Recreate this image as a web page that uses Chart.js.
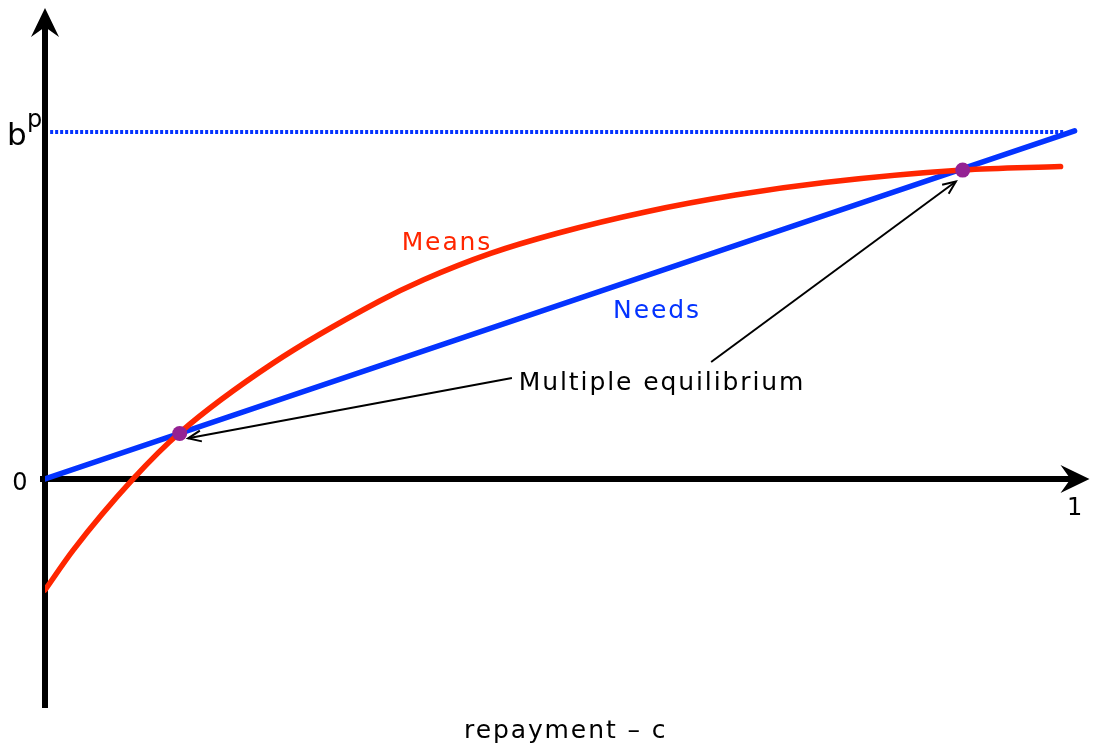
<!DOCTYPE html>
<html>
<head>
<meta charset="utf-8">
<script src="https://cdn.jsdelivr.net/npm/chart.js@4"></script>
<style>
  html, body { margin: 0; padding: 0; background: #fff; }
  #wrap { width: 1097px; height: 753px; }
</style>
</head>
<body>
<div id="wrap"><canvas id="c" width="1097" height="753"></canvas></div>
<script>
// ---- data (x = repayment share, y in units of b^p) ----
const meansX = [0, 0.0274, 0.0856, 0.1308, 0.2212, 0.3246, 0.3678, 0.4328, 0.4977, 0.5842, 0.6706, 0.7572, 0.8913, 0.9864];
const meansY = [-0.320, -0.205, 0.000, 0.133, 0.333, 0.512, 0.574, 0.650, 0.708, 0.770, 0.818, 0.854, 0.890, 0.900];
const needsX = [0, 1];
const needsY = [0, 1.003];
const bpX = [0.005, 0.99];
const bpY = [1, 1];
const eqX = [0.1308, 0.8913];
const eqY = [0.131, 0.890];
const xTickLabels = ['0', '1'];
const yTickLabels = ['0', 'b', 'p'];
const xTitle = 'repayment \u2013 c';
const annText = 'Multiple equilibrium';
const meansLabel = 'Means';
const needsLabel = 'Needs';

const zip = (xs, ys) => xs.map((x, i) => ({x, y: ys[i]}));

const RED = '#ff2600';
const BLUE = '#0433ff';
const PURPLE = '#942193';
const FONT = '"DejaVu Sans", sans-serif';
const SPACING = 1.9;

function arrowHead(ctx, tipX, tipY, ang, len, half, notch) {
  ctx.beginPath();
  ctx.moveTo(tipX, tipY);
  ctx.lineTo(tipX - len * Math.cos(ang) + half * Math.sin(ang), tipY - len * Math.sin(ang) - half * Math.cos(ang));
  ctx.lineTo(tipX - notch * Math.cos(ang), tipY - notch * Math.sin(ang));
  ctx.lineTo(tipX - len * Math.cos(ang) - half * Math.sin(ang), tipY - len * Math.sin(ang) + half * Math.cos(ang));
  ctx.closePath();
  ctx.fill();
}

function openArrow(ctx, x0, y0, x1, y1) {
  ctx.beginPath();
  ctx.moveTo(x0, y0);
  ctx.lineTo(x1, y1);
  ctx.stroke();
  const ang = Math.atan2(y1 - y0, x1 - x0);
  const len = 13, half = 5.5;
  ctx.beginPath();
  ctx.moveTo(x1 - len * Math.cos(ang) + half * Math.sin(ang), y1 - len * Math.sin(ang) - half * Math.cos(ang));
  ctx.lineTo(x1, y1);
  ctx.lineTo(x1 - len * Math.cos(ang) - half * Math.sin(ang), y1 - len * Math.sin(ang) + half * Math.cos(ang));
  ctx.stroke();
}

const axesPlugin = {
  id: 'axesPlugin',
  beforeDatasetsDraw(chart) {
    const {ctx, chartArea: a, scales: {x, y}} = chart;
    const x0 = x.getPixelForValue(0), y0 = y.getPixelForValue(0);
    ctx.save();
    ctx.strokeStyle = '#000';
    ctx.fillStyle = '#000';
    ctx.lineWidth = 6;
    // y axis
    ctx.beginPath();
    ctx.moveTo(x0, a.bottom);
    ctx.lineTo(x0, a.top + 14);
    ctx.stroke();
    arrowHead(ctx, x0, a.top, -Math.PI / 2, 29, 14, 19);
    // x axis
    ctx.beginPath();
    ctx.moveTo(x0 - 5, y0);
    ctx.lineTo(a.right - 14, y0);
    ctx.stroke();
    arrowHead(ctx, a.right, y0, 0, 29, 14, 19);
    ctx.restore();
  },
  afterDraw(chart) {
    const {ctx, scales: {x, y}} = chart;
    const x0 = x.getPixelForValue(0), y0 = y.getPixelForValue(0), y1 = y.getPixelForValue(1);
    ctx.save();
    ctx.textBaseline = 'alphabetic';
    ctx.fillStyle = '#000';
    // tick labels
    ctx.font = '24px ' + FONT;
    ctx.textAlign = 'center';
    ctx.fillText(yTickLabels[0], x0 - 25, y0 + 11);
    ctx.fillText(xTickLabels[1], x.getPixelForValue(1), y0 + 36);
    ctx.textAlign = 'left';
    ctx.font = '31px ' + FONT;
    ctx.fillText(yTickLabels[1], x0 - 38, y1 + 13);
    ctx.font = '24px ' + FONT;
    ctx.fillText(yTickLabels[2], x0 - 18, y1 - 5);
    // spaced texts
    ctx.font = '25px ' + FONT;
    ctx.letterSpacing = SPACING + 'px';
    ctx.textAlign = 'left';
    const put = (txt, cx, by, color) => {
      ctx.fillStyle = color;
      const w = ctx.measureText(txt).width - SPACING;
      ctx.fillText(txt, cx - w / 2, by);
    };
    put(xTitle, x.getPixelForValue(0.5048), 738, '#000');
    put(meansLabel, x.getPixelForValue(0.3895), y.getPixelForValue(0.661), RED);
    put(needsLabel, x.getPixelForValue(0.5935), y.getPixelForValue(0.464), BLUE);
    put(annText, x.getPixelForValue(0.5984), y.getPixelForValue(0.256), '#000');
    ctx.letterSpacing = '0px';
    // annotation arrows
    ctx.strokeStyle = '#000';
    ctx.lineWidth = 2;
    openArrow(ctx, x.getPixelForValue(0.4535), y.getPixelForValue(0.291), x.getPixelForValue(0.139), y.getPixelForValue(0.117));
    openArrow(ctx, x.getPixelForValue(0.647), y.getPixelForValue(0.337), x.getPixelForValue(0.8847), y.getPixelForValue(0.857));
    ctx.restore();
  }
};

new Chart(document.getElementById('c'), {
  type: 'line',
  data: {
    datasets: [
      {
        label: 'b^p',
        data: zip(bpX, bpY),
        borderColor: BLUE,
        borderWidth: 4,
        borderDash: [3, 2],
        pointRadius: 0,
        fill: false,
        order: 3
      },
      {
        label: 'Needs',
        data: zip(needsX, needsY),
        borderColor: BLUE,
        borderWidth: 5.5,
        borderCapStyle: 'round',
        pointRadius: 0,
        fill: false,
        order: 2
      },
      {
        label: 'Means',
        data: zip(meansX, meansY),
        borderColor: RED,
        borderWidth: 5.5,
        borderCapStyle: 'round',
        borderJoinStyle: 'round',
        cubicInterpolationMode: 'monotone',
        pointRadius: 0,
        fill: false,
        order: 1
      },
      {
        label: 'Equilibria',
        data: zip(eqX, eqY),
        showLine: false,
        pointRadius: 7.5,
        pointBackgroundColor: PURPLE,
        pointBorderColor: PURPLE,
        pointBorderWidth: 0,
        order: 0
      }
    ]
  },
  options: {
    responsive: false,
    animation: false,
    events: [],
    layout: { padding: { left: 45, right: 5, top: 8, bottom: 45 } },
    plugins: { legend: { display: false }, tooltip: { enabled: false } },
    scales: {
      x: { type: 'linear', min: 0, max: 1.0145, display: false },
      y: { type: 'linear', min: -0.66, max: 1.357, display: false }
    }
  },
  plugins: [axesPlugin]
});
</script>
</body>
</html>
